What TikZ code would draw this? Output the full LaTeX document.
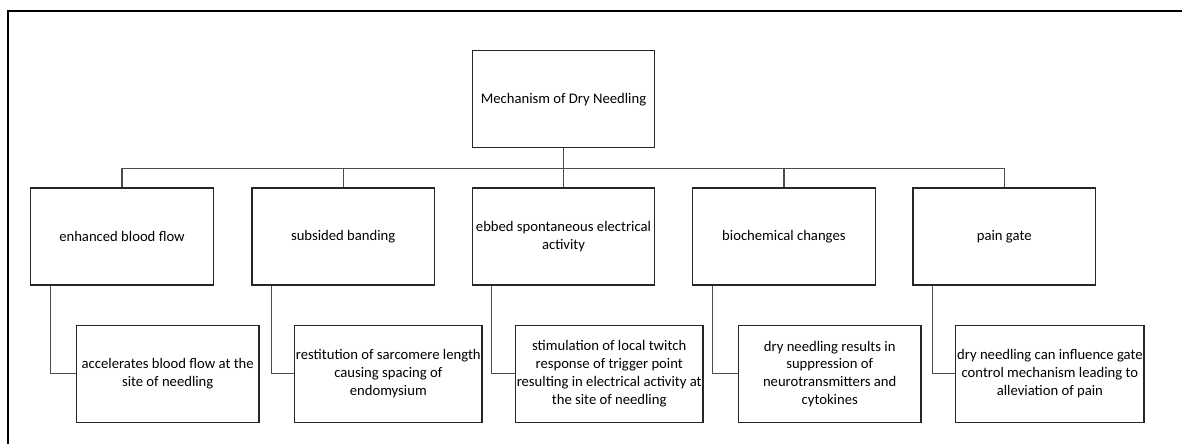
\documentclass[tikz,border=0pt]{standalone}
\usepackage{fontspec}
\setmainfont{Carlito}
\usetikzlibrary{positioning}

\begin{document}
\begin{tikzpicture}[x=0.75pt,y=-0.75pt,
  box/.style={draw=black!85,line width=0.9pt,minimum width=136.8pt,minimum height=72.8pt,
    inner sep=1pt,align=center,font=\fontsize{11}{13.3}\selectfont},
  link/.style={draw=black!70,line width=0.9pt}]

\useasboundingbox (0,0) rectangle (1182,444);
\draw[line width=2.2pt] (1182,11)--(8,11)--(8,444);

\node[box] (top) at (563.5,99.3) {Mechanism of Dry Needling};

\node[box] (blood) at ( 122.0,236.5) {enhanced blood flow};
\node[box] (band)  at ( 343.2,236.5) {subsided banding};
\node[box] (elec)  at ( 563.5,236.5) {ebbed spontaneous electrical\\activity};
\node[box] (chem)  at ( 783.9,236.5) {biochemical changes};
\node[box] (pain)  at (1004.2,236.5) {pain gate};

\node[box] (bloodsub) at ( 167.7,373.7) {accelerates blood flow at the\\site of needling};
\node[box] (bandsub)  at ( 388.3,373.7) {restitution of sarcomere length\\causing spacing of\\endomysium};
\node[box] (elecsub)  at ( 609.2,373.7) {stimulation of local twitch\\response of trigger point\\resulting in electrical activity at\\the site of needling};
\node[box] (chemsub)  at ( 829.7,373.7) {dry needling results in\\suppression of\\neurotransmitters and\\cytokines};
\node[box] (painsub)  at (1049.9,373.7) {dry needling can influence gate\\control mechanism leading to\\alleviation of pain};

% bus from the top box
\draw[link] (top.south) -- ++(0,20) coordinate (bus);
\draw[link] (bus) -| (blood.north);
\draw[link] (bus) -| (band.north);
\draw[link] (bus) -- (elec.north);
\draw[link] (bus) -| (chem.north);
\draw[link] (bus) -| (pain.north);

% down to the details
\draw[link] ([xshift=15pt]blood.south west) |- (bloodsub.west);
\draw[link] ([xshift=15pt]band.south west)  |- (bandsub.west);
\draw[link] ([xshift=15pt]elec.south west)  |- (elecsub.west);
\draw[link] ([xshift=15pt]chem.south west)  |- (chemsub.west);
\draw[link] ([xshift=15pt]pain.south west)  |- (painsub.west);

\end{tikzpicture}
\end{document}
